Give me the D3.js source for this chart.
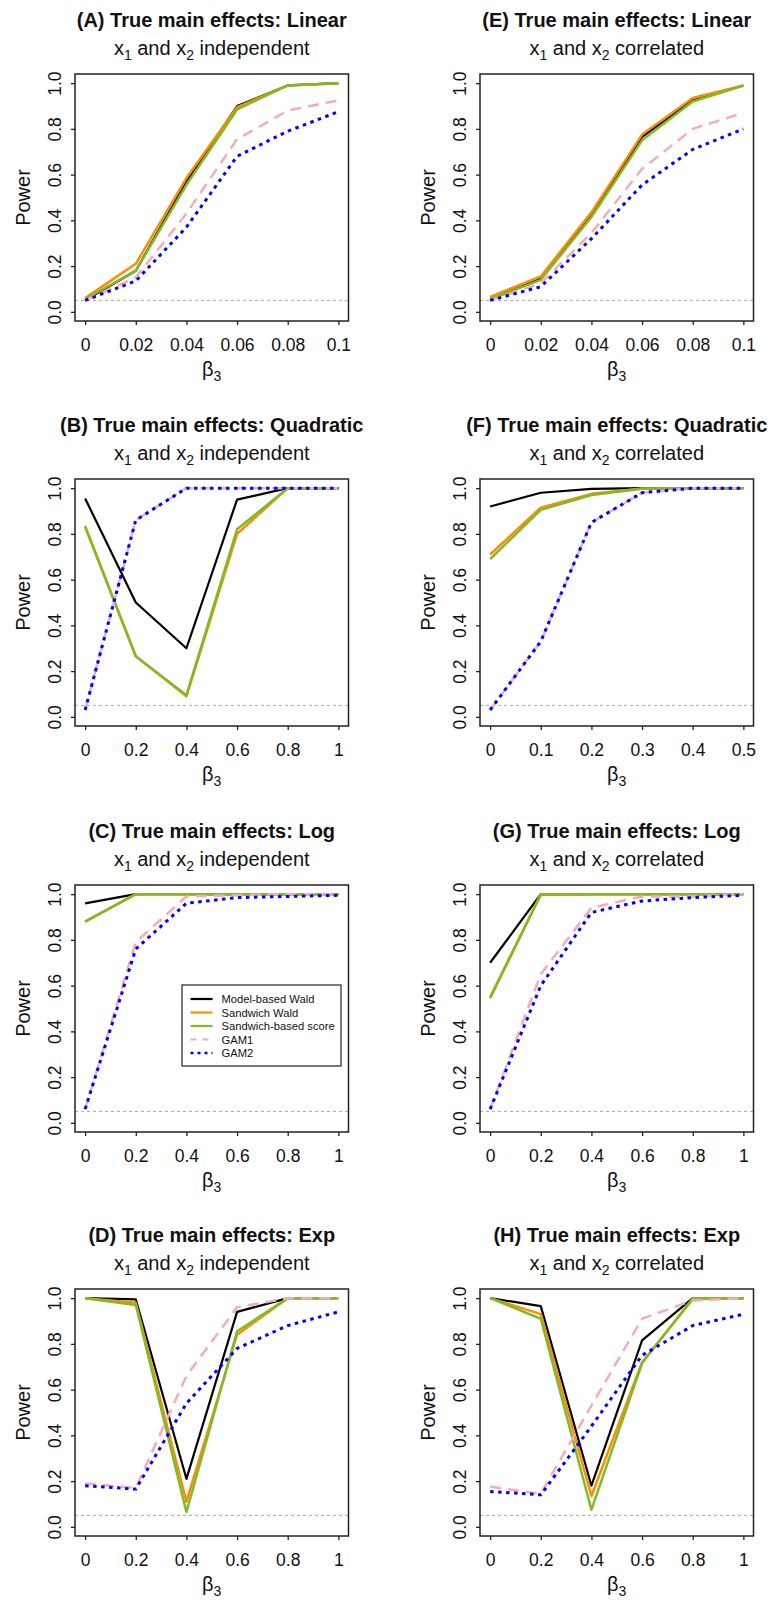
<!DOCTYPE html>
<html>
<head>
<meta charset="utf-8">
<script src="https://cdn.jsdelivr.net/npm/d3@7"></script>
<style>
  html, body { margin: 0; padding: 0; background: #ffffff; }
  svg { display: block; font-family: "Liberation Sans", Arial, Helvetica, sans-serif; }
</style>
</head>
<body>
<svg id="chart" width="783" height="1600"></svg>
<script>
// ---------------- DATA ----------------
const seriesNames = ["Model-based Wald", "Sandwich Wald", "Sandwich-based score", "GAM1", "GAM2"];

const betaLinear = [0, 0.02, 0.04, 0.06, 0.08, 0.1];
const betaLinearLabels = ["0", "0.02", "0.04", "0.06", "0.08", "0.1"];
const betaQuadCorr = [0, 0.1, 0.2, 0.3, 0.4, 0.5];
const betaQuadCorrLabels = ["0", "0.1", "0.2", "0.3", "0.4", "0.5"];
const betaStd = [0, 0.2, 0.4, 0.6, 0.8, 1];
const betaStdLabels = ["0", "0.2", "0.4", "0.6", "0.8", "1"];

const yTicks = [0, 0.2, 0.4, 0.6, 0.8, 1.0];
const yTickLabels = ["0.0", "0.2", "0.4", "0.6", "0.8", "1.0"];
const alphaLevel = 0.05;

// (A) Linear, independent
const A_wald  = [0.05, 0.18, 0.57, 0.90, 0.99, 1.00];
const A_sw    = [0.06, 0.21, 0.585, 0.895, 0.99, 1.00];
const A_score = [0.055, 0.18, 0.555, 0.885, 0.99, 1.00];
const A_gam1  = [0.05, 0.15, 0.43, 0.755, 0.88, 0.925];
const A_gam2  = [0.05, 0.135, 0.37, 0.68, 0.79, 0.875];
// (B) Quadratic, independent
const B_wald  = [0.955, 0.50, 0.30, 0.95, 1.00, 1.00];
const B_sw    = [0.835, 0.265, 0.09, 0.80, 1.00, 1.00];
const B_score = [0.83, 0.265, 0.095, 0.82, 1.00, 1.00];
const B_gam1  = [0.03, 0.86, 1.00, 1.00, 1.00, 1.00];
const B_gam2  = [0.03, 0.86, 1.00, 1.00, 1.00, 1.00];
// (C) Log, independent
const C_wald  = [0.96, 1.00, 1.00, 1.00, 1.00, 1.00];
const C_sw    = [0.88, 1.00, 1.00, 1.00, 1.00, 1.00];
const C_score = [0.88, 1.00, 1.00, 1.00, 1.00, 1.00];
const C_gam1  = [0.06, 0.79, 0.99, 0.995, 1.00, 1.00];
const C_gam2  = [0.06, 0.76, 0.96, 0.985, 0.99, 0.995];
// (D) Exp, independent
const D_wald  = [1.00, 0.995, 0.21, 0.94, 1.00, 1.00];
const D_sw    = [1.00, 0.98, 0.11, 0.84, 1.00, 1.00];
const D_score = [1.00, 0.97, 0.065, 0.855, 1.00, 1.00];
const D_gam1  = [0.19, 0.17, 0.66, 0.96, 1.00, 1.00];
const D_gam2  = [0.18, 0.165, 0.54, 0.78, 0.88, 0.94];
// (E) Linear, correlated
const E_wald  = [0.055, 0.145, 0.42, 0.765, 0.925, 0.99];
const E_sw    = [0.065, 0.155, 0.435, 0.775, 0.935, 0.99];
const E_score = [0.055, 0.14, 0.415, 0.75, 0.92, 0.99];
const E_gam1  = [0.05, 0.125, 0.345, 0.625, 0.80, 0.87];
const E_gam2  = [0.05, 0.11, 0.32, 0.555, 0.71, 0.80];
// (F) Quadratic, correlated
const F_wald  = [0.92, 0.98, 0.997, 1.00, 1.00, 1.00];
const F_sw    = [0.71, 0.915, 0.975, 0.998, 1.00, 1.00];
const F_score = [0.69, 0.905, 0.97, 0.997, 1.00, 1.00];
const F_gam1  = [0.03, 0.33, 0.85, 0.98, 1.00, 1.00];
const F_gam2  = [0.03, 0.33, 0.85, 0.98, 1.00, 1.00];
// (G) Log, correlated
const G_wald  = [0.70, 1.00, 1.00, 1.00, 1.00, 1.00];
const G_sw    = [0.55, 1.00, 1.00, 1.00, 1.00, 1.00];
const G_score = [0.545, 0.997, 1.00, 1.00, 1.00, 1.00];
const G_gam1  = [0.06, 0.65, 0.94, 0.99, 0.99, 1.00];
const G_gam2  = [0.06, 0.60, 0.92, 0.97, 0.985, 0.995];
// (H) Exp, correlated
const H_wald  = [1.00, 0.965, 0.18, 0.815, 1.00, 1.00];
const H_sw    = [1.00, 0.93, 0.135, 0.72, 0.995, 1.00];
const H_score = [1.00, 0.91, 0.075, 0.715, 1.00, 1.00];
const H_gam1  = [0.175, 0.145, 0.53, 0.91, 0.99, 1.00];
const H_gam2  = [0.155, 0.14, 0.44, 0.75, 0.88, 0.93];

// ---------------- STYLES ----------------
const seriesStyles = [
  { color: "#000000", width: 2.2, dash: null },
  { color: "#FF8C00", width: 2.5, dash: null },
  { color: "#7DBB2A", width: 2.5, dash: null },
  { color: "#F7AABA", width: 2.5, dash: "11,7" },
  { color: "#0000FF", width: 3,   dash: "3.5,4.5" }
];

const panels = [
  { letter: "A", effect: "Linear",    corr: "independent", col: 0, row: 0, x: betaLinear,   xl: betaLinearLabels,   ys: [A_wald, A_sw, A_score, A_gam1, A_gam2] },
  { letter: "B", effect: "Quadratic", corr: "independent", col: 0, row: 1, x: betaStd,      xl: betaStdLabels,      ys: [B_wald, B_sw, B_score, B_gam1, B_gam2] },
  { letter: "C", effect: "Log",       corr: "independent", col: 0, row: 2, x: betaStd,      xl: betaStdLabels,      ys: [C_wald, C_sw, C_score, C_gam1, C_gam2], legend: true },
  { letter: "D", effect: "Exp",       corr: "independent", col: 0, row: 3, x: betaStd,      xl: betaStdLabels,      ys: [D_wald, D_sw, D_score, D_gam1, D_gam2] },
  { letter: "E", effect: "Linear",    corr: "correlated",  col: 1, row: 0, x: betaLinear,   xl: betaLinearLabels,   ys: [E_wald, E_sw, E_score, E_gam1, E_gam2] },
  { letter: "F", effect: "Quadratic", corr: "correlated",  col: 1, row: 1, x: betaQuadCorr, xl: betaQuadCorrLabels, ys: [F_wald, F_sw, F_score, F_gam1, F_gam2] },
  { letter: "G", effect: "Log",       corr: "correlated",  col: 1, row: 2, x: betaStd,      xl: betaStdLabels,      ys: [G_wald, G_sw, G_score, G_gam1, G_gam2] },
  { letter: "H", effect: "Exp",       corr: "correlated",  col: 1, row: 3, x: betaStd,      xl: betaStdLabels,      ys: [H_wald, H_sw, H_score, H_gam1, H_gam2] }
];

// ---------------- LAYOUT ----------------
const colLeft = [75, 480];
const rowTop = [74, 479, 885, 1289];
const boxW = 273.5, boxH = 247;

const svg = d3.select("#chart");
svg.append("rect").attr("width", 783).attr("height", 1600).attr("fill", "#ffffff");

panels.forEach(p => {
  const L = colLeft[p.col], T = rowTop[p.row];
  const g = svg.append("g");

  const xmin = d3.min(p.x), xmax = d3.max(p.x), xr = xmax - xmin;
  const x = d3.scaleLinear().domain([xmin - 0.04 * xr, xmax + 0.04 * xr]).range([L, L + boxW]);
  const y = d3.scaleLinear().domain([-0.04, 1.04]).range([T + boxH, T]);

  // alpha reference line
  g.append("line")
    .attr("x1", L).attr("x2", L + boxW)
    .attr("y1", y(alphaLevel)).attr("y2", y(alphaLevel))
    .attr("stroke", "#aaaaaa").attr("stroke-width", 1).attr("stroke-dasharray", "3,3");

  // series
  const line = d3.line().x(d => x(d[0])).y(d => y(d[1]));
  p.ys.forEach((vals, i) => {
    const st = seriesStyles[i];
    g.append("path")
      .datum(p.x.map((xv, j) => [xv, vals[j]]))
      .attr("d", line)
      .attr("fill", "none")
      .attr("stroke", st.color)
      .attr("stroke-width", st.width)
      .attr("stroke-linejoin", "round")
      .attr("stroke-dasharray", st.dash);
  });

  // box
  g.append("rect")
    .attr("x", L).attr("y", T).attr("width", boxW).attr("height", boxH)
    .attr("fill", "none").attr("stroke", "#222").attr("stroke-width", 1.5);

  // x axis
  const xAxis = d3.axisBottom(x).tickValues(p.x).tickFormat((d, i) => p.xl[i]).tickSize(4).tickSizeOuter(0).tickPadding(0);
  const xg = g.append("g").attr("transform", `translate(0,${T + boxH})`).call(xAxis);
  xg.select(".domain").remove();
  xg.selectAll(".tick line").attr("stroke", "#222").attr("stroke-width", 1.3);
  xg.selectAll(".tick text")
    .attr("y", 29.5).attr("dy", null)
    .attr("fill", "#111")
    .style("font-size", "17.5px")
    .style("font-family", '"Liberation Sans", Arial, sans-serif');

  // y axis
  const yAxis = d3.axisLeft(y).tickValues(yTicks).tickFormat((d, i) => yTickLabels[i]).tickSize(4).tickSizeOuter(0);
  const yg = g.append("g").attr("transform", `translate(${L},0)`).call(yAxis);
  yg.select(".domain").remove();
  yg.selectAll(".tick line").attr("stroke", "#222").attr("stroke-width", 1.3);
  yg.selectAll(".tick text")
    .attr("x", null).attr("dy", null)
    .attr("text-anchor", "middle")
    .attr("transform", "translate(-14,0) rotate(-90)")
    .attr("fill", "#111")
    .style("font-size", "17.5px")
    .style("font-family", '"Liberation Sans", Arial, sans-serif');

  const cx = L + boxW / 2;
  // title
  g.append("text")
    .attr("x", cx).attr("y", T - 47)
    .attr("text-anchor", "middle")
    .style("font-size", "20px").style("font-weight", "bold").attr("fill", "#111")
    .text(`(${p.letter}) True main effects: ${p.effect}`);
  // subtitle with subscripts
  const st = g.append("text")
    .attr("x", cx).attr("y", T - 19)
    .attr("text-anchor", "middle")
    .style("font-size", "20px").attr("fill", "#111");
  st.append("tspan").text("x");
  st.append("tspan").attr("dy", 5).style("font-size", "14px").text("1");
  st.append("tspan").attr("dy", -5).text(" and x");
  st.append("tspan").attr("dy", 5).style("font-size", "14px").text("2");
  st.append("tspan").attr("dy", -5).text(" " + p.corr);

  // x label
  const xl = g.append("text")
    .attr("x", cx).attr("y", T + boxH + 55)
    .attr("text-anchor", "middle")
    .style("font-size", "20px").attr("fill", "#111");
  xl.append("tspan").text("β");
  xl.append("tspan").attr("dy", 5).style("font-size", "14px").text("3");

  // y label
  g.append("text")
    .attr("transform", `translate(${L - 45},${T + boxH / 2}) rotate(-90)`)
    .attr("text-anchor", "middle")
    .style("font-size", "20px").attr("fill", "#111")
    .text("Power");

  // legend
  if (p.legend) {
    const lx = L + 107, ly = T + 100, lw = 159, lh = 81;
    const lg = g.append("g");
    lg.append("rect").attr("x", lx).attr("y", ly).attr("width", lw).attr("height", lh)
      .attr("fill", "#fff").attr("stroke", "#222").attr("stroke-width", 1.2);
    seriesNames.forEach((name, i) => {
      const yy = ly + 14 + i * 13.5;
      const s = seriesStyles[i];
      lg.append("line").attr("x1", lx + 8.5).attr("x2", lx + 30.5).attr("y1", yy).attr("y2", yy)
        .attr("stroke", s.color).attr("stroke-width", s.width === 3 ? 2.6 : 2.2)
        .attr("stroke-dasharray", s.dash ? (i === 3 ? "6,6" : "3,4") : null);
      lg.append("text").attr("x", lx + 39.5).attr("y", yy).attr("dy", "0.36em")
        .style("font-size", "11.2px").attr("fill", "#111").text(name);
    });
  }
});
</script>
</body>
</html>
